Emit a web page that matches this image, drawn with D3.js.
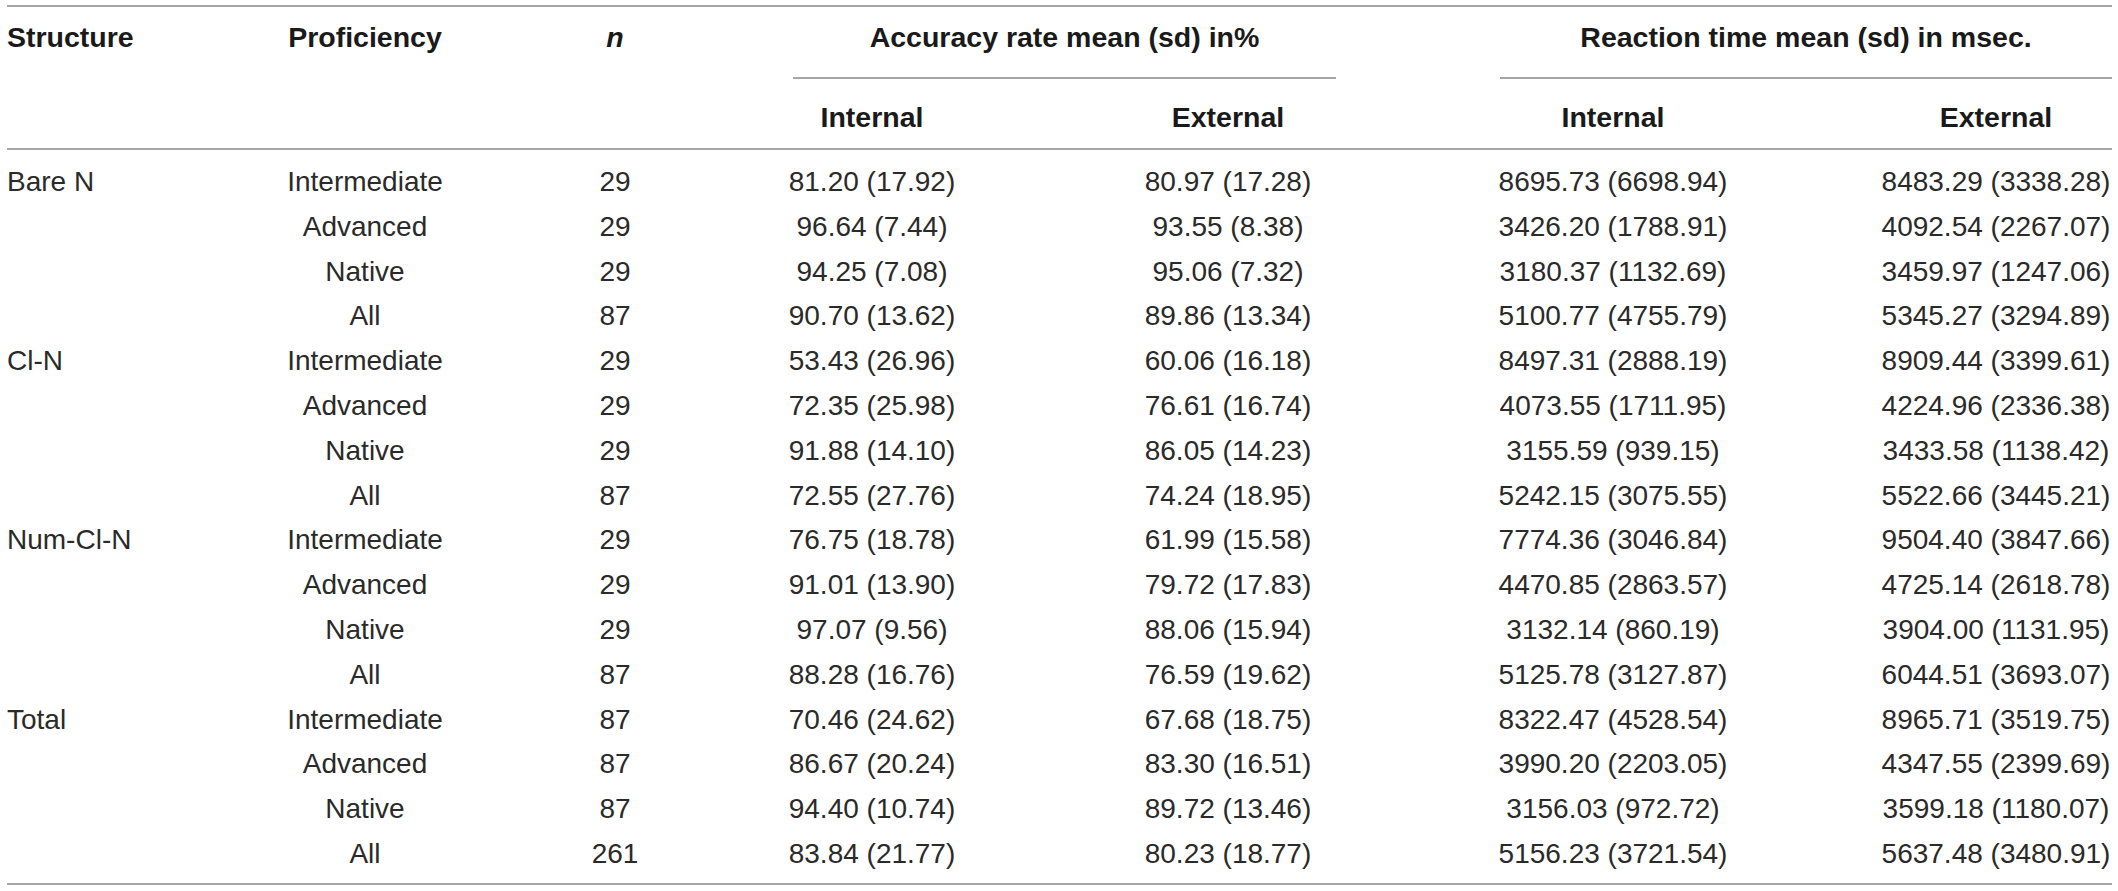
<!DOCTYPE html>
<html>
<head>
<meta charset="utf-8">
<script src="https://cdn.jsdelivr.net/npm/d3@7"></script>
<style>
  body { margin: 0; background: #fff; }
  text { font-family: "Liberation Sans", Arial, Helvetica, sans-serif; }
  .head { font-weight: bold; font-size: 28.5px; fill: #1a1a1a; }
  .cell { font-size: 28px; fill: #2a2a2a; }
  .rule { stroke: #a6a6a6; stroke-width: 2; }
</style>
</head>
<body>
<svg id="table"></svg>
<script>
var width = 2118;
var height = 891;

// table values
var structures = ["Bare N", "Cl-N", "Num-Cl-N", "Total"];
var proficiencies = ["Intermediate", "Advanced", "Native", "All"];
var nValues = [29, 29, 29, 87, 29, 29, 29, 87, 29, 29, 29, 87, 87, 87, 87, 261];

var accIntMean = [81.20, 96.64, 94.25, 90.70, 53.43, 72.35, 91.88, 72.55, 76.75, 91.01, 97.07, 88.28, 70.46, 86.67, 94.40, 83.84];
var accIntSd   = [17.92, 7.44, 7.08, 13.62, 26.96, 25.98, 14.10, 27.76, 18.78, 13.90, 9.56, 16.76, 24.62, 20.24, 10.74, 21.77];
var accExtMean = [80.97, 93.55, 95.06, 89.86, 60.06, 76.61, 86.05, 74.24, 61.99, 79.72, 88.06, 76.59, 67.68, 83.30, 89.72, 80.23];
var accExtSd   = [17.28, 8.38, 7.32, 13.34, 16.18, 16.74, 14.23, 18.95, 15.58, 17.83, 15.94, 19.62, 18.75, 16.51, 13.46, 18.77];

var rtIntMean = [8695.73, 3426.20, 3180.37, 5100.77, 8497.31, 4073.55, 3155.59, 5242.15, 7774.36, 4470.85, 3132.14, 5125.78, 8322.47, 3990.20, 3156.03, 5156.23];
var rtIntSd   = [6698.94, 1788.91, 1132.69, 4755.79, 2888.19, 1711.95, 939.15, 3075.55, 3046.84, 2863.57, 860.19, 3127.87, 4528.54, 2203.05, 972.72, 3721.54];
var rtExtMean = [8483.29, 4092.54, 3459.97, 5345.27, 8909.44, 4224.96, 3433.58, 5522.66, 9504.40, 4725.14, 3904.00, 6044.51, 8965.71, 4347.55, 3599.18, 5637.48];
var rtExtSd   = [3338.28, 2267.07, 1247.06, 3294.89, 3399.61, 2336.38, 1138.42, 3445.21, 3847.66, 2618.78, 1131.95, 3693.07, 3519.75, 2399.69, 1180.07, 3480.91];

var groupHeaders = ["Accuracy rate mean (sd) in%", "Reaction time mean (sd) in msec."];
var subHeaders = ["Internal", "External"];

var fmt = d3.format(".2f");
function ms(m, s) { return fmt(m) + " (" + fmt(s) + ")"; }

// build rows
var rows = d3.range(nValues.length).map(function(i) {
    return {
        structure: i % proficiencies.length == 0 ? structures[i / proficiencies.length] : "",
        proficiency: proficiencies[i % proficiencies.length],
        n: String(nValues[i]),
        accInt: ms(accIntMean[i], accIntSd[i]),
        accExt: ms(accExtMean[i], accExtSd[i]),
        rtInt: ms(rtIntMean[i], rtIntSd[i]),
        rtExt: ms(rtExtMean[i], rtExtSd[i])
    };
});

// column layout
var columns = [
    {key: "structure",   x: 7,    anchor: "start"},
    {key: "proficiency", x: 365,  anchor: "middle"},
    {key: "n",           x: 615,  anchor: "middle"},
    {key: "accInt",      x: 872,  anchor: "middle"},
    {key: "accExt",      x: 1228, anchor: "middle"},
    {key: "rtInt",       x: 1613, anchor: "middle"},
    {key: "rtExt",       x: 1996, anchor: "middle"}
];
var groups = [
    {label: groupHeaders[0], x1: 793,  x2: 1336, cols: ["accInt", "accExt"]},
    {label: groupHeaders[1], x1: 1500, x2: 2112, cols: ["rtInt", "rtExt"]}
];

var left = 7, right = 2112;
var yTop = 6, yHead1 = 47, ySub = 78, yHead2 = 127, yHeadRule = 149, yBottom = 884;

var y = d3.scaleLinear().domain([0, rows.length - 1]).range([191, 863]);
var colX = {};
columns.forEach(function(c) { colX[c.key] = c; });

var svg = d3.select("#table").attr("width", width).attr("height", height);

// rules
svg.selectAll("line.main").data([yTop, yHeadRule, yBottom]).enter().append("line")
    .attr("class", "rule main")
    .attr("x1", left).attr("x2", right)
    .attr("y1", function(d) { return d; }).attr("y2", function(d) { return d; });

svg.selectAll("line.sub").data(groups).enter().append("line")
    .attr("class", "rule sub")
    .attr("x1", function(d) { return d.x1; }).attr("x2", function(d) { return d.x2; })
    .attr("y1", ySub).attr("y2", ySub);

// header row 1
var head1 = [
    {text: "Structure", col: colX.structure},
    {text: "Proficiency", col: colX.proficiency},
    {text: "n", col: colX.n, italic: true}
];
svg.selectAll("text.h1").data(head1).enter().append("text")
    .attr("class", "head h1")
    .attr("x", function(d) { return d.col.x; })
    .attr("y", yHead1)
    .attr("text-anchor", function(d) { return d.col.anchor; })
    .style("font-style", function(d) { return d.italic ? "italic" : null; })
    .text(function(d) { return d.text; });

svg.selectAll("text.grp").data(groups).enter().append("text")
    .attr("class", "head grp")
    .attr("x", function(d) { return (d.x1 + d.x2) / 2; })
    .attr("y", yHead1)
    .attr("text-anchor", "middle")
    .text(function(d) { return d.label; });

// header row 2
var head2 = [];
groups.forEach(function(g) {
    g.cols.forEach(function(k, i) { head2.push({text: subHeaders[i], col: colX[k]}); });
});
svg.selectAll("text.h2").data(head2).enter().append("text")
    .attr("class", "head h2")
    .attr("x", function(d) { return d.col.x; })
    .attr("y", yHead2)
    .attr("text-anchor", "middle")
    .text(function(d) { return d.text; });

// body
var rowG = svg.selectAll("g.row").data(rows).enter().append("g")
    .attr("class", "row")
    .attr("transform", function(d, i) { return "translate(0," + y(i) + ")"; });

rowG.selectAll("text").data(function(d) {
        return columns.map(function(c) { return {col: c, text: d[c.key]}; });
    }).enter().append("text")
    .attr("class", "cell")
    .attr("x", function(d) { return d.col.x; })
    .attr("text-anchor", function(d) { return d.col.anchor; })
    .text(function(d) { return d.text; });
</script>
</body>
</html>
